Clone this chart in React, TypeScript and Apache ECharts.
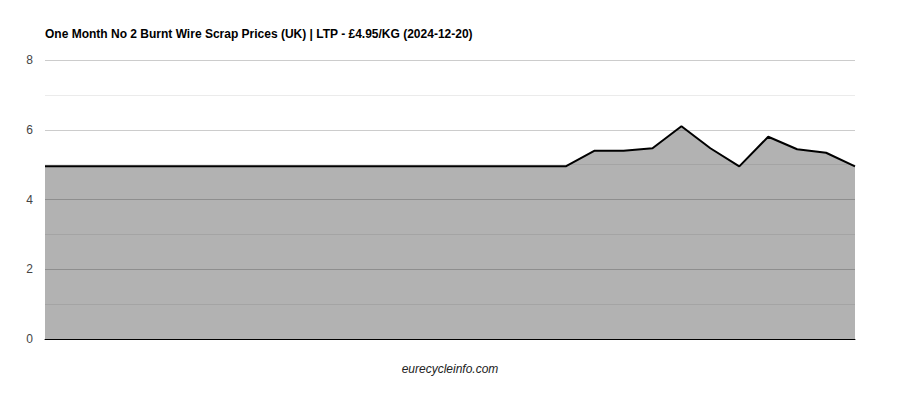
import React, { useEffect, useRef } from "react";
import * as echarts from "echarts";

const categories: string[] = [
  "1", "2", "3", "4", "5", "6", "7", "8", "9", "10",
  "11", "12", "13", "14", "15", "16", "17", "18", "19", "20",
  "21", "22", "23", "24", "25", "26", "27", "28", "29",
];
const prices: number[] = [
  4.95, 4.95, 4.95, 4.95, 4.95, 4.95, 4.95, 4.95, 4.95, 4.95,
  4.95, 4.95, 4.95, 4.95, 4.95, 4.95, 4.95, 4.95, 4.95, 5.4,
  5.4, 5.47, 6.1, 5.47, 4.95, 5.8, 5.44, 5.34, 4.95,
];
const titleText = "One Month No 2 Burnt Wire Scrap Prices (UK) | LTP - £4.95/KG (2024-12-20)";
const sourceText = "eurecycleinfo.com";

export default function App() {
  const ref = useRef<HTMLDivElement>(null);
  useEffect(() => {
    if (!ref.current) return;
    const chart = echarts.init(ref.current, undefined, { renderer: "svg" });
    chart.setOption({
      animation: false,
      title: {
        text: titleText,
        left: 40,
        top: 23,
        textStyle: { fontSize: 12, fontWeight: "bold", color: "#000", fontFamily: "Liberation Sans, Arial, sans-serif" },
      },
      graphic: [
        {
          type: "text",
          left: "center",
          top: 363,
          style: {
            text: sourceText,
            fontSize: 12,
            fontStyle: "italic",
            fill: "#222",
            fontFamily: "Liberation Sans, Arial, sans-serif",
          },
        },
      ],
      grid: { left: 45, right: 45, top: 60, bottom: 61, containLabel: false },
      xAxis: {
        type: "category",
        data: categories,
        boundaryGap: false,
        axisLine: { show: true, lineStyle: { color: "#000", width: 1 } },
        axisTick: { show: false },
        axisLabel: { show: false },
        splitLine: { show: false },
      },
      yAxis: {
        type: "value",
        min: 0,
        max: 8,
        interval: 2,
        axisLine: { show: false },
        axisTick: { show: false },
        axisLabel: {
          color: "#444",
          fontSize: 12,
          margin: 12,
          fontFamily: "Liberation Sans, Arial, sans-serif",
        },
        splitLine: { show: true, lineStyle: { color: "#cccccc", width: 1 } },
        minorTick: { show: false, splitNumber: 2 },
        minorSplitLine: { show: true, lineStyle: { color: "#ebebeb", width: 1 } },
      },
      series: [
        {
          type: "line",
          data: prices,
          symbol: "none",
          lineStyle: { color: "#000", width: 2 },
          areaStyle: { color: "#000", opacity: 0.3 },
          z: 3,
        },
      ],
    });
    return () => chart.dispose();
  }, []);
  return <div ref={ref} style={{ width: 900, height: 400, position: "absolute", left: 0, top: 0 }} />;
}
